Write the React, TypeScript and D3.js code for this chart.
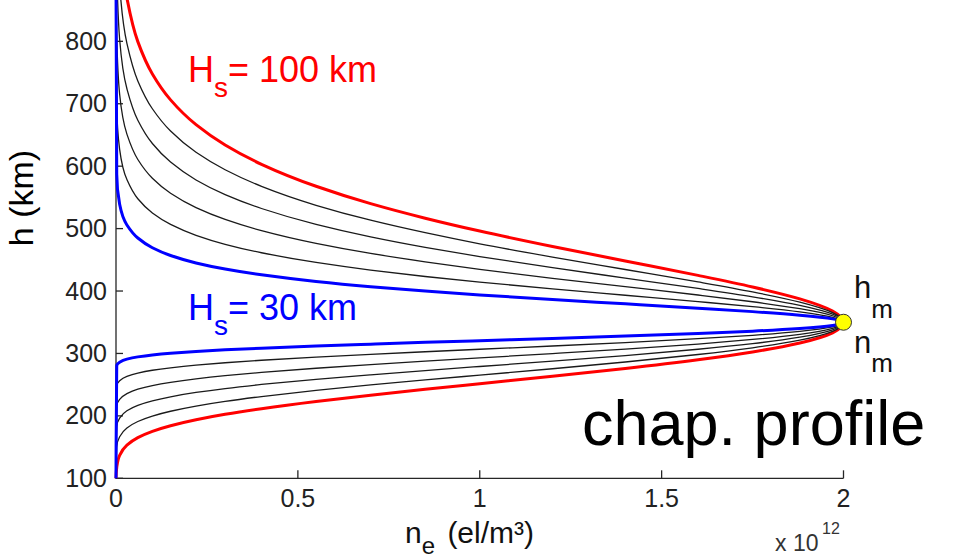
import React from 'react';
import * as d3 from 'd3';

// electron density levels (x 10^12 el/m^3) where each profile's heights were read
const neLevels = [0.002, 0.01, 0.03, 0.06, 0.1, 0.15, 0.22, 0.3, 0.4, 0.55, 0.7, 0.85, 1.0, 1.2, 1.4, 1.6, 1.75, 1.88, 1.97];

// scale heights of the plotted profiles (km)
const scaleHeights = [30, 44, 58, 72, 86, 100];

// heights (km) below the peak at each density level, one row per scale height
const bottomside = [
  [280.2, 286.0, 290.9, 294.5, 297.6, 300.3, 303.1, 305.8, 308.5, 311.9, 314.9, 317.8, 320.5, 324.0, 327.8, 332.0, 335.7, 340.0, 344.9],
  [247.7, 256.2, 263.3, 268.6, 273.1, 277.0, 281.3, 285.1, 289.1, 294.1, 298.6, 302.7, 306.7, 311.9, 317.4, 323.6, 329.1, 335.4, 342.6],
  [215.1, 226.3, 235.7, 242.8, 248.6, 253.8, 259.4, 264.5, 269.7, 276.3, 282.2, 287.7, 292.9, 299.8, 307.0, 315.1, 322.4, 330.7, 340.2],
  [182.5, 196.5, 208.2, 216.9, 224.1, 230.6, 237.5, 243.8, 250.3, 258.6, 265.8, 272.6, 279.1, 287.6, 296.6, 306.7, 315.7, 326.1, 337.8],
  [150.0, 166.6, 180.6, 191.0, 199.7, 207.4, 215.7, 223.2, 230.9, 240.8, 249.5, 257.6, 265.3, 275.5, 286.3, 298.3, 309.1, 321.4, 335.5],
  [117.4, 136.8, 153.0, 165.1, 175.2, 184.2, 193.8, 202.5, 211.5, 223.0, 233.1, 242.5, 251.5, 263.4, 275.9, 289.9, 302.4, 316.8, 333.1],
];

// heights (km) above the peak at each density level
const topside = [
  [587.2, 538.9, 505.8, 484.9, 469.3, 456.9, 445.0, 435.2, 425.9, 415.3, 407.0, 400.0, 393.8, 386.4, 379.5, 372.5, 367.0, 361.2, 355.4],
  [697.9, 627.0, 578.5, 547.8, 525.0, 506.7, 489.3, 474.9, 461.3, 445.8, 433.6, 423.3, 414.3, 403.4, 393.2, 383.0, 374.9, 366.5, 357.9],
  [808.6, 715.2, 651.3, 610.7, 580.7, 556.6, 533.6, 514.7, 496.7, 476.3, 460.2, 446.7, 434.7, 420.4, 407.0, 393.6, 382.8, 371.7, 360.4],
  [919.3, 803.3, 724.0, 673.6, 636.3, 606.5, 577.9, 554.4, 532.2, 506.8, 486.8, 470.0, 455.2, 437.4, 420.7, 404.1, 390.7, 376.9, 362.9],
  [1030.0, 891.5, 796.7, 736.6, 692.0, 656.3, 622.2, 594.2, 567.6, 537.3, 513.4, 493.4, 475.6, 454.4, 434.5, 414.6, 398.6, 382.2, 365.4],
  [1140.7, 979.6, 869.4, 799.5, 747.7, 706.2, 666.5, 633.9, 603.0, 567.8, 540.0, 516.7, 496.1, 471.4, 448.2, 425.1, 406.5, 387.4, 367.9],
];

const peakNe = 2.0;
const peakH = 350;

const xTicks = [0, 0.5, 1, 1.5, 2];
const yTicks = [100, 200, 300, 400, 500, 600, 700, 800];

const font = 'Liberation Sans, Arial, Helvetica, sans-serif';

export default function App() {
  const x = d3.scaleLinear().domain([0, 2]).range([116, 843.5]);
  const y = d3.scaleLinear().domain([100, 900]).range([478.3, -21.1]);

  const line = d3.line<number[]>()
    .x(d => x(d[0]))
    .y(d => y(d[1]))
    .curve(d3.curveMonotoneY);

  const profiles = scaleHeights.map((H, i) => {
    const pts: number[][] = [[0, 100]];
    neLevels.forEach((n, j) => pts.push([n, bottomside[i][j]]));
    pts.push([peakNe, peakH]);
    const upper = neLevels.map((n, j) => [n, topside[i][j]]).reverse();
    upper.forEach(p => pts.push(p));
    if (pts[pts.length - 1][1] < 900) pts.push([0, 900]);
    // top to bottom on screen
    return {H, pts: pts.reverse()};
  });

  const colorOf = (i: number) => i === 0 ? '#0000ff' : i === scaleHeights.length - 1 ? '#ff0000' : '#1a1a1a';
  const widthOf = (i: number) => (i === 0 || i === scaleHeights.length - 1) ? 3 : 1.3;

  // draw blue last so it sits on top, like the original
  const order = [5, 4, 3, 2, 1, 0];

  return (
    <svg width={978} height={559} style={{position: 'absolute', left: 0, top: 0, background: '#fff'}}
      fontFamily={font}>
      <rect x={0} y={0} width={978} height={559} fill="#fff" />

      {/* axes */}
      <line x1={x(0)} x2={x(2)} y1={y(100)} y2={y(100)} stroke="#262626" strokeWidth={1.3} />
      <line x1={x(0)} x2={x(0)} y1={y(100)} y2={0} stroke="#262626" strokeWidth={1.3} />
      {xTicks.map(t => (
        <g key={'xt' + t}>
          <line x1={x(t)} x2={x(t)} y1={y(100)} y2={y(100) - 8} stroke="#262626" strokeWidth={1.3} />
          <text x={x(t)} y={507} fontSize={25} textAnchor="middle" fill="#222">{t}</text>
        </g>
      ))}
      {yTicks.map(t => (
        <g key={'yt' + t}>
          <line x1={x(0)} x2={x(0) + 7} y1={y(t)} y2={y(t)} stroke="#262626" strokeWidth={1.3} />
          <text x={107} y={y(t) + 8.5} fontSize={25} textAnchor="end" fill="#222">{t}</text>
        </g>
      ))}

      {/* profiles */}
      {order.map(i => (
        <path key={'p' + i} d={line(profiles[i].pts) || ''} fill="none"
          stroke={colorOf(i)} strokeWidth={widthOf(i)} strokeLinejoin="round" />
      ))}

      <circle cx={x(peakNe)} cy={y(peakH)} r={8} fill="#ffff00" stroke="#333" strokeWidth={1} />

      {/* labels */}
      <text x={188} y={82} fontSize={36} fill="#ff0000">H<tspan dy={15} fontSize={28}>s</tspan><tspan dy={-15}>= 100 km</tspan></text>
      <text x={188} y={320} fontSize={36} fill="#0000ff">H<tspan dy={15} fontSize={28}>s</tspan><tspan dy={-15}>= 30 km</tspan></text>

      <text x={854} y={298} fontSize={31} fill="#111">h<tspan dy={20} fontSize={26}>m</tspan></text>
      <text x={854} y={353} fontSize={31} fill="#111">n<tspan dy={19} fontSize={26}>m</tspan></text>

      <text x={582} y={445} fontSize={63} fill="#000">chap. profile</text>

      <text transform="translate(33,198) rotate(-90)" fontSize={34} textAnchor="middle" fill="#000">h (km)</text>

      <text x={405} y={543} fontSize={30} fill="#111">n<tspan dy={11} fontSize={24}>e</tspan><tspan dy={-11} dx={4}> (el/m³)</tspan></text>

      <text x={775} y={551} fontSize={23} fill="#333">x 10</text>
      <text x={822} y={534} fontSize={16} fill="#333">12</text>
    </svg>
  );
}
